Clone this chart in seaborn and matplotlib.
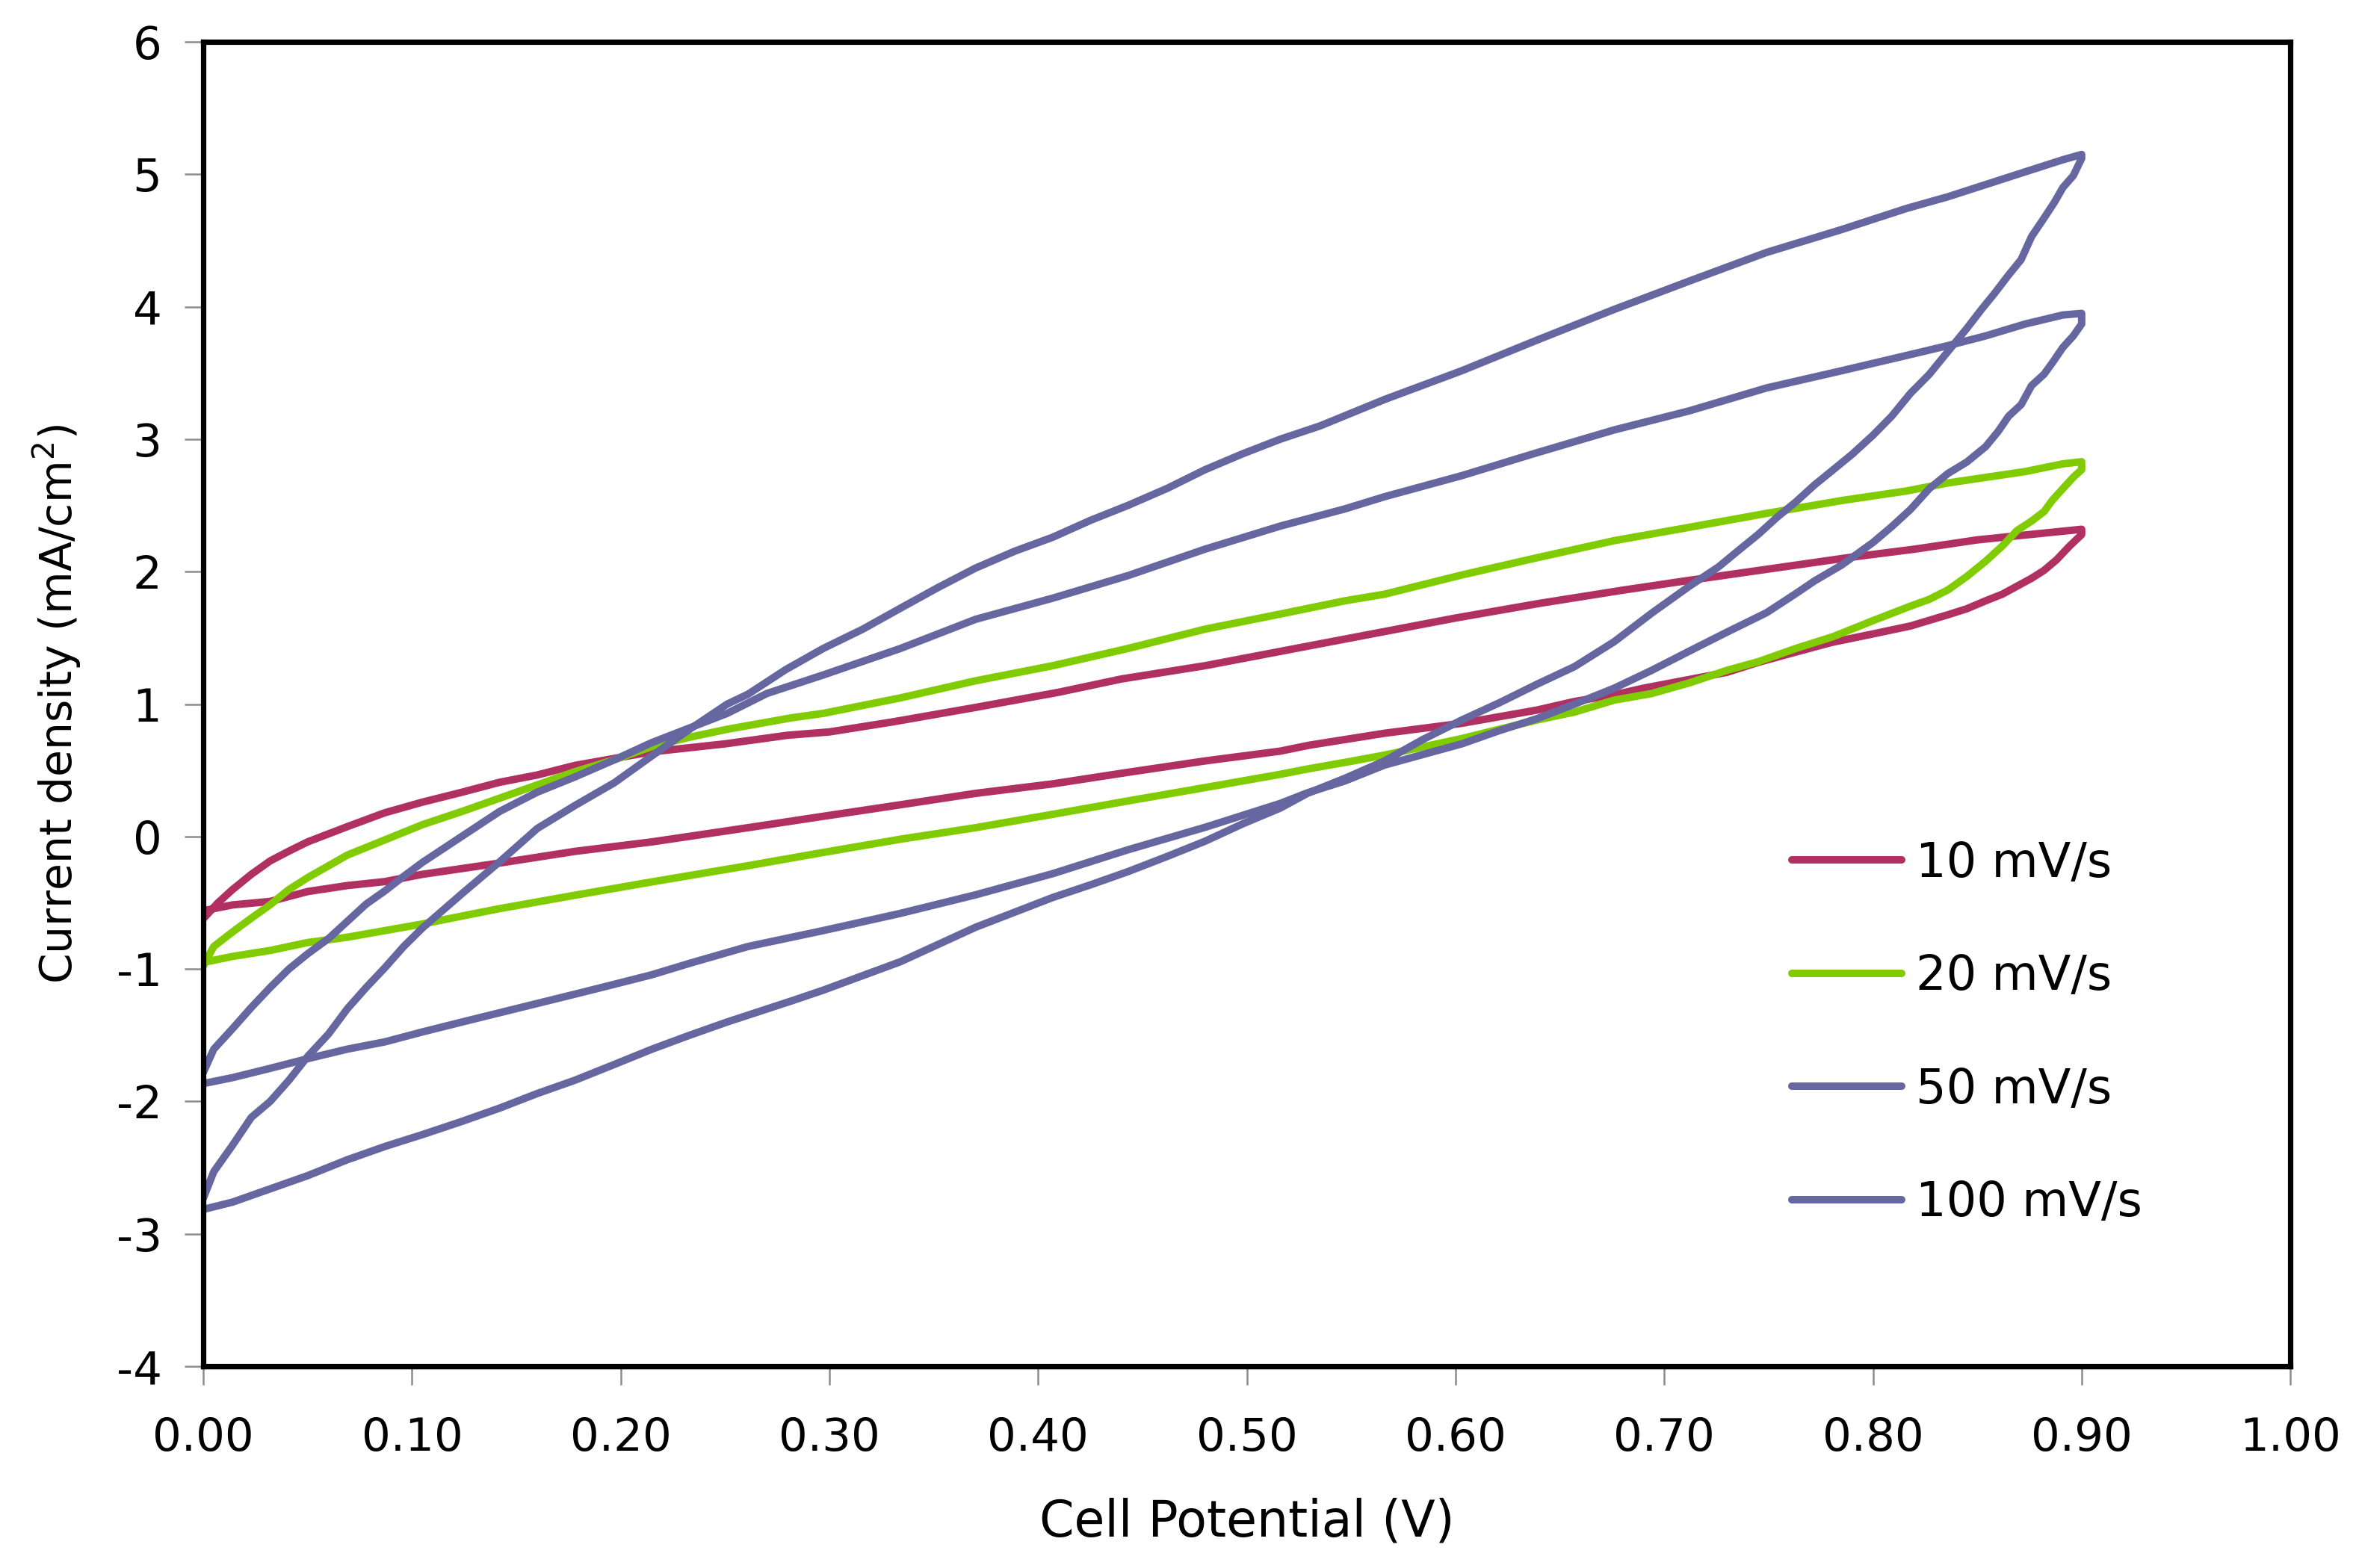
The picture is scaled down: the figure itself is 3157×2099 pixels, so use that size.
import pandas as pd
import matplotlib
matplotlib.use('Agg')
import matplotlib.pyplot as plt
import seaborn as sns

# cyclic voltammograms: forward sweep then reverse sweep
e_10 = [0.0, 0.007, 0.014, 0.023, 0.032, 0.041, 0.05, 0.069, 0.087, 0.105,
        0.124, 0.142, 0.16, 0.178, 0.197, 0.215, 0.25, 0.28, 0.30, 0.33,
        0.37, 0.41, 0.44, 0.48, 0.52, 0.55, 0.60, 0.64, 0.68, 0.71,
        0.75, 0.79, 0.82, 0.85, 0.875, 0.9,
        0.9, 0.894, 0.888, 0.882, 0.876, 0.869, 0.862, 0.854, 0.845, 0.836,
        0.818, 0.80, 0.78, 0.76, 0.745, 0.73, 0.71, 0.69, 0.676, 0.657,
        0.639, 0.603, 0.566, 0.53, 0.516, 0.48, 0.443, 0.407, 0.37, 0.334,
        0.297, 0.261, 0.215, 0.178, 0.142, 0.105, 0.087, 0.069, 0.05, 0.032,
        0.014, 0.0]
j_10 = [-0.62, -0.50, -0.40, -0.285, -0.184, -0.11, -0.04, 0.075, 0.18, 0.26,
        0.335, 0.41, 0.465, 0.537, 0.59, 0.64, 0.70, 0.765, 0.79, 0.865,
        0.975, 1.09, 1.19, 1.29, 1.41, 1.50, 1.65, 1.76, 1.86, 1.93,
        2.02, 2.11, 2.17, 2.24, 2.28, 2.32,
        2.28, 2.19, 2.09, 2.01, 1.95, 1.89, 1.83, 1.78, 1.72, 1.675,
        1.59, 1.53, 1.465, 1.38, 1.315, 1.24, 1.18, 1.12, 1.07, 1.02,
        0.955, 0.855, 0.78, 0.69, 0.645, 0.571, 0.485, 0.398, 0.326, 0.24,
        0.153, 0.067, -0.04, -0.112, -0.20, -0.285, -0.34, -0.37, -0.415, -0.49,
        -0.516, -0.56]

e_20 = [0.0, 0.005, 0.014, 0.023, 0.032, 0.041, 0.05, 0.069, 0.087, 0.105,
        0.124, 0.142, 0.16, 0.178, 0.197, 0.215, 0.233, 0.251, 0.282, 0.297,
        0.334, 0.37, 0.407, 0.443, 0.48, 0.516, 0.547, 0.566, 0.603, 0.639,
        0.676, 0.712, 0.749, 0.785, 0.816, 0.836, 0.873, 0.891, 0.9,
        0.9, 0.896, 0.891, 0.886, 0.882, 0.876, 0.869, 0.862, 0.854, 0.845,
        0.836, 0.827, 0.818, 0.80, 0.781, 0.763, 0.745, 0.73, 0.712, 0.694,
        0.676, 0.657, 0.639, 0.621, 0.603, 0.566, 0.547, 0.529, 0.516, 0.48,
        0.443, 0.407, 0.37, 0.334, 0.297, 0.261, 0.215, 0.178, 0.142, 0.124,
        0.105, 0.087, 0.069, 0.05, 0.032, 0.014, 0.0]
j_20 = [-0.975, -0.83, -0.72, -0.616, -0.515, -0.40, -0.31, -0.14, -0.025, 0.09,
        0.19, 0.29, 0.39, 0.49, 0.58, 0.68, 0.75, 0.81, 0.897, 0.93,
        1.047, 1.176, 1.29, 1.42, 1.566, 1.68, 1.78, 1.83, 1.975, 2.105,
        2.234, 2.335, 2.44, 2.537, 2.609, 2.67, 2.756, 2.814, 2.83,
        2.77, 2.713, 2.627, 2.54, 2.454, 2.382, 2.31, 2.194, 2.079, 1.964,
        1.863, 1.791, 1.74, 1.63, 1.51, 1.42, 1.32, 1.255, 1.16, 1.08,
        1.03, 0.94, 0.88, 0.81, 0.74, 0.615, 0.56, 0.51, 0.47, 0.37,
        0.269, 0.168, 0.067, -0.02, -0.12, -0.22, -0.342, -0.443, -0.544, -0.60,
        -0.66, -0.71, -0.76, -0.80, -0.86, -0.905, -0.95]

e_50 = [0.0, 0.005, 0.014, 0.023, 0.032, 0.041, 0.05, 0.06, 0.069, 0.078,
        0.087, 0.096, 0.105, 0.124, 0.142, 0.16, 0.178, 0.197, 0.215, 0.233,
        0.251, 0.27, 0.297, 0.334, 0.37, 0.407, 0.443, 0.48, 0.516, 0.547,
        0.566, 0.603, 0.639, 0.676, 0.712, 0.749, 0.785, 0.816, 0.836, 0.854,
        0.873, 0.891, 0.9,
        0.9, 0.896, 0.891, 0.886, 0.882, 0.876, 0.871, 0.865, 0.86, 0.854,
        0.845, 0.836, 0.827, 0.818, 0.809, 0.80, 0.785, 0.772, 0.763, 0.749,
        0.73, 0.712, 0.694, 0.676, 0.657, 0.639, 0.621, 0.603, 0.566, 0.547,
        0.529, 0.516, 0.48, 0.443, 0.407, 0.37, 0.334, 0.297, 0.282, 0.261,
        0.233, 0.215, 0.197, 0.178, 0.16, 0.142, 0.124, 0.105, 0.087, 0.069,
        0.05, 0.032, 0.014, 0.0]
j_50 = [-1.78, -1.605, -1.45, -1.29, -1.14, -1.0, -0.885, -0.77, -0.64, -0.51,
        -0.41, -0.30, -0.195, 0.003, 0.19, 0.335, 0.45, 0.58, 0.71, 0.82,
        0.93, 1.08, 1.22, 1.42, 1.64, 1.80, 1.97, 2.17, 2.344, 2.474,
        2.566, 2.725, 2.898, 3.07, 3.214, 3.387, 3.517, 3.632, 3.707, 3.78,
        3.87, 3.938, 3.95,
        3.87, 3.78, 3.693, 3.578, 3.491, 3.405, 3.261, 3.174, 3.059, 2.944,
        2.828, 2.742, 2.627, 2.47, 2.34, 2.22, 2.05, 1.93, 1.834, 1.69,
        1.543, 1.40, 1.255, 1.12, 1.0, 0.89, 0.80, 0.70, 0.54, 0.42,
        0.33, 0.25, 0.07, -0.10, -0.28, -0.44, -0.58, -0.71, -0.76, -0.83,
        -0.957, -1.043, -1.115, -1.19, -1.26, -1.33, -1.40, -1.475, -1.55, -1.605,
        -1.677, -1.75, -1.82, -1.865]

e_100 = [0.0, 0.005, 0.014, 0.023, 0.032, 0.041, 0.05, 0.06, 0.069, 0.078,
         0.087, 0.096, 0.105, 0.124, 0.142, 0.16, 0.178, 0.197, 0.215, 0.233,
         0.251, 0.261, 0.279, 0.297, 0.316, 0.334, 0.352, 0.37, 0.389, 0.407,
         0.425, 0.443, 0.462, 0.48, 0.498, 0.516, 0.535, 0.566, 0.603, 0.639,
         0.676, 0.712, 0.749, 0.785, 0.816, 0.836, 0.873, 0.891, 0.9,
         0.9, 0.896, 0.891, 0.887, 0.882, 0.876, 0.871, 0.865, 0.858, 0.852,
         0.845, 0.836, 0.827, 0.818, 0.809, 0.80, 0.79, 0.781, 0.772, 0.763,
         0.754, 0.745, 0.736, 0.726, 0.712, 0.694, 0.676, 0.657, 0.639, 0.621,
         0.603, 0.584, 0.566, 0.547, 0.529, 0.516, 0.498, 0.48, 0.462, 0.443,
         0.425, 0.407, 0.37, 0.334, 0.297, 0.282, 0.251, 0.233, 0.215, 0.197,
         0.178, 0.16, 0.142, 0.124, 0.105, 0.087, 0.069, 0.05, 0.032, 0.014,
         0.0]
j_100 = [-2.73, -2.53, -2.33, -2.12, -2.0, -1.84, -1.66, -1.49, -1.30, -1.14,
         -0.99, -0.83, -0.69, -0.43, -0.19, 0.061, 0.234, 0.407, 0.61, 0.81,
         1.0, 1.075, 1.26, 1.42, 1.566, 1.724, 1.88, 2.027, 2.156, 2.26,
         2.387, 2.50, 2.63, 2.77, 2.89, 3.0, 3.10, 3.30, 3.517, 3.748,
         3.98, 4.194, 4.41, 4.583, 4.742, 4.831, 5.019, 5.11, 5.15,
         5.12, 4.99, 4.90, 4.79, 4.67, 4.53, 4.356, 4.24, 4.096, 3.98,
         3.837, 3.664, 3.49, 3.347, 3.174, 3.03, 2.886, 2.77, 2.655, 2.526,
         2.41, 2.281, 2.166, 2.036, 1.89, 1.687, 1.471, 1.283, 1.15, 1.01,
         0.88, 0.73, 0.571, 0.44, 0.326, 0.215, 0.096, -0.035, -0.149, -0.265,
         -0.365, -0.46, -0.685, -0.945, -1.16, -1.24, -1.40, -1.50, -1.605, -1.72,
         -1.84, -1.94, -2.05, -2.15, -2.25, -2.34, -2.44, -2.56, -2.66, -2.76,
         -2.815]

rates = ['10 mV/s', '20 mV/s', '50 mV/s', '100 mV/s']
colors = ['#B03062', '#80CC00', '#6666A0', '#6666A0']

sns.set_theme(style='white')
plt.rcParams['font.family'] = ['DejaVu Sans']
plt.rcParams['mathtext.default'] = 'regular'
plt.rcParams['axes.unicode_minus'] = False
plt.rcParams['text.color'] = 'black'
plt.rcParams['axes.labelcolor'] = 'black'

frames = []
for rate, e, j in zip(rates, [e_10, e_20, e_50, e_100], [j_10, j_20, j_50, j_100]):
    frames.append(pd.DataFrame({'E': e, 'J': j, 'rate': rate}))
df = pd.concat(frames, ignore_index=True)

fig = plt.figure(figsize=(15.785, 10.495), dpi=200)
ax = fig.add_axes([0.0862, 0.1286, 0.8847, 0.8447])

sns.lineplot(data=df, x='E', y='J', hue='rate', hue_order=rates,
             palette=dict(zip(rates, colors)), sort=False, estimator=None,
             linewidth=3.6, ax=ax)

ax.set_xlim(0, 1.0)
ax.set_ylim(-4, 6)
ax.set_xticks([i / 10 for i in range(11)])
ax.set_xticklabels([f'{i / 10:.2f}' for i in range(11)])
ax.set_yticks(range(-4, 7))
ax.tick_params(axis='both', which='major', direction='out', length=9, width=0.9,
               color='#8C8C8C', labelsize=22, labelcolor='black',
               left=True, bottom=True)
ax.tick_params(axis='x', pad=15)
ax.tick_params(axis='y', pad=11)

for side in ['left', 'right', 'top', 'bottom']:
    ax.spines[side].set_color('black')
    ax.spines[side].set_linewidth(2.6)
    ax.spines[side].set_visible(True)

ax.set_xlabel('Cell Potential (V)', fontsize=24, labelpad=18, color='black')
ax.set_ylabel('Current density (mA/cm$^{2}$)', fontsize=21, labelpad=16, color='black')

handles, labels = ax.get_legend_handles_labels()
leg = ax.legend(handles, labels, loc='center left', bbox_to_anchor=(0.761, 0.2516),
                frameon=False, fontsize=23, handlelength=2.3, handletextpad=0.3,
                labelspacing=1.4, borderpad=0, borderaxespad=0)
for txt in leg.get_texts():
    txt.set_color('black')

fig.savefig('out.png', dpi=200)
plt.close(fig)
